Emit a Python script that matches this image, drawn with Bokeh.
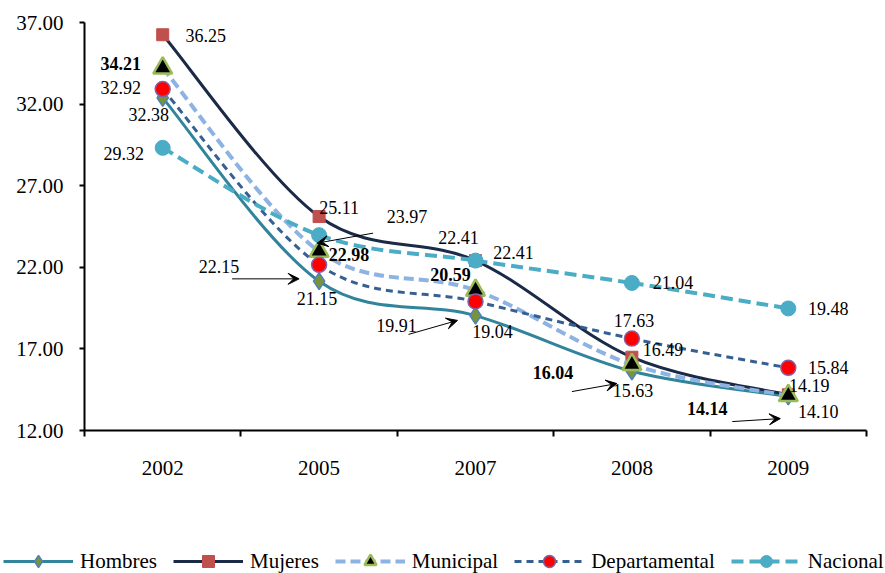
from bokeh.plotting import figure
from bokeh.layouts import column
from bokeh.models import (Range1d, FixedTicker, PrintfTickFormatter, Legend, LegendItem,
                          Arrow, VeeHead, ColumnDataSource)
from bokeh.core.properties import value
from bokeh.embed import file_html
from bokeh.resources import INLINE

# ---------------- data ----------------
years = ["2002", "2005", "2007", "2008", "2009"]
hombres = [32.38, 21.15, 19.04, 15.63, 14.10]
mujeres = [36.25, 25.11, 22.41, 16.49, 14.19]
municipal = [34.21, 22.98, 20.59, 16.04, 14.14]
departamental = [32.92, 22.15, 19.91, 17.63, 15.84]
nacional = [29.32, 23.97, 22.41, 21.04, 19.48]
y_ticks = [12, 17, 22, 27, 32, 37]
series_names = ["Hombres", "Mujeres", "Municipal", "Departamental", "Nacional"]

# ---------------- layout ----------------
FRAME_W, FRAME_H = 782, 408
Y0, Y1 = 12, 37
PX_X = FRAME_W / len(years)
PX_Y = FRAME_H / (Y1 - Y0)
FONT = "Liberation Serif"

p = figure(width=885, height=520, output_backend="svg", toolbar_location=None,
           x_range=Range1d(-0.5, len(years) - 0.5), y_range=Range1d(Y0, Y1),
           min_border_left=84, min_border_right=19, min_border_top=22, min_border_bottom=90)
p.outline_line_color = None
p.grid.visible = False
p.background_fill_color = "white"
p.frame_align = False

xs = list(range(len(years)))

# x axis
p.xaxis.ticker = FixedTicker(ticks=xs, minor_ticks=[i - 0.5 for i in range(len(years) + 1)])
p.xaxis.major_label_overrides = {i: y for i, y in enumerate(years)}
p.xaxis.major_tick_out = 0
p.xaxis.major_tick_in = 0
p.xaxis.minor_tick_out = 6
p.xaxis.minor_tick_in = 0
p.xaxis.minor_tick_line_color = "black"
p.xaxis.minor_tick_line_width = 2
p.xaxis.axis_line_width = 2
p.xaxis.axis_line_color = "black"
p.xaxis.major_label_standoff = 24
p.xaxis.major_label_text_font = FONT
p.xaxis.major_label_text_font_size = "21px"
p.xaxis.major_label_text_color = "black"

# y axis
p.yaxis.ticker = FixedTicker(ticks=y_ticks, minor_ticks=[])
p.yaxis.formatter = PrintfTickFormatter(format="%.2f")
p.yaxis.major_tick_out = 5
p.yaxis.major_tick_in = 0
p.yaxis.major_tick_line_width = 2
p.yaxis.major_tick_line_color = "black"
p.yaxis.axis_line_width = 2
p.yaxis.axis_line_color = "black"
p.yaxis.major_label_standoff = 16
p.yaxis.major_label_text_font = FONT
p.yaxis.major_label_text_font_size = "21px"
p.yaxis.major_label_text_color = "black"


def smooth_segments(xv, yv, t=1 / 6):
    n = len(xv)
    pts = list(zip(xv, yv))
    d = {k: [] for k in ["x0", "y0", "x1", "y1", "cx0", "cy0", "cx1", "cy1"]}
    for i in range(n - 1):
        p0 = pts[i - 1] if i > 0 else pts[i]
        p1 = pts[i]
        p2 = pts[i + 1]
        p3 = pts[i + 2] if i + 2 < n else pts[i + 1]
        d["x0"].append(p1[0]); d["y0"].append(p1[1])
        d["x1"].append(p2[0]); d["y1"].append(p2[1])
        d["cx0"].append(p1[0] + (p2[0] - p0[0]) * t)
        d["cy0"].append(p1[1] + (p2[1] - p0[1]) * t)
        d["cx1"].append(p2[0] - (p3[0] - p1[0]) * t)
        d["cy1"].append(p2[1] - (p3[1] - p1[1]) * t)
    return d


styles = {
    "Hombres": dict(values=hombres, color="#31849B", width=3, dash="solid",
                    marker="diamond", size=17, fill="#77933C", mline="#4F81BD", mlw=1.5),
    "Mujeres": dict(values=mujeres, color="#1B2A47", width=3, dash="solid",
                    marker="square", size=12, fill="#C0504D", mline="#C0504D", mlw=1),
    "Municipal": dict(values=municipal, color="#8DB3E2", width=4, dash="10 5",
                      marker="triangle", size=19, fill="black", mline="#9BBB59", mlw=2.5),
    "Departamental": dict(values=departamental, color="#366092", width=3, dash="7 5",
                          marker="circle", size=15, fill="#FF0000", mline="#8064A2", mlw=1.5),
    "Nacional": dict(values=nacional, color="#4BACC6", width=4, dash="12 6",
                     marker="circle", size=15, fill="#4BACC6", mline="#4BACC6", mlw=1),
}

# label offsets in screen px (dx right, dy down) from their point
label_offsets = {
    "Hombres": [(-14, 17), (-2, 17), (17, 16), (1, 19), (30, 15)],
    "Mujeres": [(43, 1), (20, -9), (-17, -23), (31, -8), (21, -9)],
    "Municipal": [(-42, -5), (30, 3), (-25, -16), (-79, 8), (-81, 13)],
    "Departamental": [(-42, -2), (-100, 2), (-79, 24), (2, -18), (40, 0)],
    "Nacional": [(-39, 6), (88, -19), (38, -8), (41, 0), (40, 0)],
}

# legend strip (below the chart); its own glyphs lie outside its visible range
lg = figure(width=885, height=53, output_backend="svg", toolbar_location=None,
            x_axis_type=None, y_axis_type=None, min_border=0,
            x_range=Range1d(100, 101), y_range=Range1d(100, 101))
lg.outline_line_color = None
lg.grid.visible = False
lg.frame_align = False

items = []
for name in series_names:
    s = styles[name]
    seg = smooth_segments(xs, s["values"])
    p.bezier(x0="x0", y0="y0", x1="x1", y1="y1", cx0="cx0", cy0="cy0", cx1="cx1", cy1="cy1",
             source=ColumnDataSource(seg), line_color=s["color"], line_width=s["width"],
             line_dash=s["dash"])
    p.scatter(xs, s["values"], marker=s["marker"], size=s["size"], fill_color=s["fill"],
              line_color=s["mline"], line_width=s["mlw"])
    leg_line = lg.line(xs, s["values"], line_color=s["color"],
                       line_width=s["width"], line_dash=s["dash"])
    leg_mark = lg.scatter(xs, s["values"], marker=s["marker"], size=s["size"],
                          fill_color=s["fill"], line_color=s["mline"], line_width=s["mlw"])
    items.append(LegendItem(label=name, renderers=[leg_line, leg_mark]))

for name in series_names:
    s = styles[name]
    offs = label_offsets[name]
    src = ColumnDataSource(dict(x=xs, y=s["values"],
                                t=["%.2f" % v for v in s["values"]],
                                dx=[o[0] for o in offs], dy=[o[1] for o in offs]))
    p.text(x="x", y="y", text="t", x_offset="dx", y_offset="dy", source=src,
           text_font=value(FONT), text_font_size="18px", text_color="black",
           text_align="center", text_baseline="middle",
           text_font_style="bold" if name == "Municipal" else "normal")

# callout arrows: (series, index, start offset px, end offset px)
arrows = [
    ("Nacional", 1, (54, -2), (-2, 8)),
    ("Departamental", 1, (-87, 14), (-20, 14)),
    ("Departamental", 2, (-67, 33), (-18, 19)),
    ("Municipal", 3, (-60, 27), (-15, 19)),
    ("Municipal", 4, (-56, 26), (-8, 23)),
]
for name, i, so, eo in arrows:
    v = styles[name]["values"][i]
    p.add_layout(Arrow(end=VeeHead(size=11, fill_color="black", line_color="black", line_width=1),
                       x_start=i + so[0] / PX_X, y_start=v - so[1] / PX_Y,
                       x_end=i + eo[0] / PX_X, y_end=v - eo[1] / PX_Y,
                       line_color="black", line_width=1))

legend = Legend(items=items, orientation="horizontal", location=(3, -3),
                label_text_font=FONT, label_text_font_size="21px", label_text_color="black",
                glyph_width=70, glyph_height=30, label_standoff=7, spacing=16,
                padding=0, margin=0, border_line_alpha=0, background_fill_alpha=0,
                label_height=20)
lg.add_layout(legend, "center")

open("out.html", "w").write(file_html(column(p, lg, spacing=0), INLINE))
